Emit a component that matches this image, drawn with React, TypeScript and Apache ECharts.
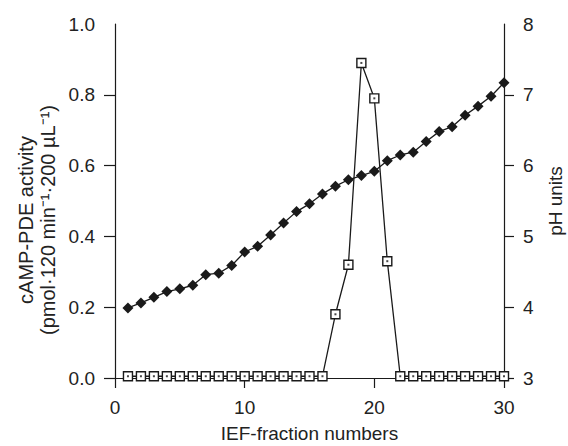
import React, { useEffect, useRef } from "react";
import * as echarts from "echarts";

const fractions: number[] = Array.from({ length: 30 }, (_, i) => i + 1);
const pdeActivity: number[] = [
  0.005, 0.005, 0.005, 0.005, 0.005, 0.005, 0.005, 0.005, 0.005, 0.005,
  0.005, 0.005, 0.005, 0.005, 0.005, 0.005, 0.18, 0.32, 0.89, 0.79,
  0.33, 0.005, 0.005, 0.005, 0.005, 0.005, 0.005, 0.005, 0.005, 0.005,
];
const phValues: number[] = [
  3.99, 4.06, 4.14, 4.22, 4.26, 4.31, 4.46, 4.48, 4.59, 4.78,
  4.86, 5.02, 5.19, 5.35, 5.46, 5.6, 5.71, 5.8, 5.86, 5.92,
  6.07, 6.15, 6.19, 6.34, 6.48, 6.55, 6.71, 6.84, 6.98, 7.17,
];
const xTicks: number[] = [0, 10, 20, 30];
const leftTicks: number[] = [0, 0.2, 0.4, 0.6, 0.8, 1.0];
const rightTicks: number[] = [3, 4, 5, 6, 7, 8];

const FONT = "'Liberation Sans', Arial, sans-serif";
const INK = "#1a1a1a";
const TXT = "#222222";

export default function App() {
  const ref = useRef<HTMLDivElement>(null);
  useEffect(() => {
    if (!ref.current) return;
    const chart = echarts.init(ref.current, null, { renderer: "svg" });
    const pde = fractions.map((f, i) => [f, pdeActivity[i]]);
    const ph = fractions.map((f, i) => [f, phValues[i]]);
    const axisLine = { show: true, onZero: false, lineStyle: { color: INK, width: 1.2 } };
    chart.setOption({
      animation: false,
      backgroundColor: "#ffffff",
      grid: { left: 115, right: 64, top: 24, bottom: 68, containLabel: false, outerBoundsMode: "none" },
      xAxis: {
        type: "value",
        min: 0,
        max: 30,
        interval: 10,
        axisLine,
        axisTick: { show: true, inside: false, length: 10, customValues: xTicks, lineStyle: { color: INK, width: 1.2 } },
        axisLabel: { customValues: xTicks, margin: 20, fontSize: 19, fontFamily: FONT, color: TXT },
        splitLine: { show: false },
        name: "IEF-fraction numbers",
        nameLocation: "middle",
        nameGap: 46,
        nameTextStyle: { fontSize: 19, fontFamily: FONT, color: TXT },
      },
      yAxis: [
        {
          type: "value",
          min: 0,
          max: 1,
          interval: 0.2,
          position: "left",
          axisLine,
          axisTick: { show: true, length: 11, customValues: [0, 0.2, 0.4, 0.6, 0.8], lineStyle: { color: INK, width: 1.2 } },
          axisLabel: {
            customValues: leftTicks,
            margin: 20,
            fontSize: 19,
            fontFamily: FONT,
            color: TXT,
            formatter: (v: number) => v.toFixed(1),
          },
          splitLine: { show: false },
        },
        {
          type: "value",
          min: 3,
          max: 8,
          interval: 1,
          position: "right",
          axisLine,
          axisTick: { show: true, length: 10, customValues: [3, 4, 5, 6, 7], lineStyle: { color: INK, width: 1.2 } },
          axisLabel: { customValues: rightTicks, margin: 19, fontSize: 19, fontFamily: FONT, color: TXT },
          splitLine: { show: false },
          name: "pH units",
          nameLocation: "middle",
          nameRotate: 90,
          nameGap: 42,
          nameTextStyle: { fontSize: 19, fontFamily: FONT, color: TXT },
        },
      ],
      graphic: [
        {
          type: "text",
          x: 37,
          y: 220,
          rotation: Math.PI / 2,
          style: {
            text: "cAMP-PDE activity\n(pmol·120 min⁻¹·200 µL⁻¹)",
            fontSize: 20,
            lineHeight: 22,
            fontFamily: FONT,
            fill: TXT,
            align: "center",
            verticalAlign: "middle",
          },
        },
      ],
      series: [
        {
          name: "pH",
          type: "line",
          yAxisIndex: 1,
          data: ph,
          symbol: "diamond",
          symbolSize: 11,
          lineStyle: { color: INK, width: 1.3 },
          itemStyle: { color: INK },
          z: 2,
        },
        {
          name: "cAMP-PDE activity",
          type: "line",
          yAxisIndex: 0,
          data: pde,
          symbol: "rect",
          symbolSize: 9,
          lineStyle: { color: INK, width: 1.3 },
          itemStyle: { color: "#ffffff", borderColor: INK, borderWidth: 1.4 },
          z: 3,
        },
        {
          name: "activity-dot",
          type: "scatter",
          yAxisIndex: 0,
          data: pde,
          symbol: "rect",
          symbolSize: 2,
          itemStyle: { color: INK },
          z: 4,
          silent: true,
        },
      ],
    });
    return () => chart.dispose();
  }, []);
  return <div ref={ref} style={{ position: "fixed", left: 0, top: 0, width: 568, height: 446 }} />;
}
